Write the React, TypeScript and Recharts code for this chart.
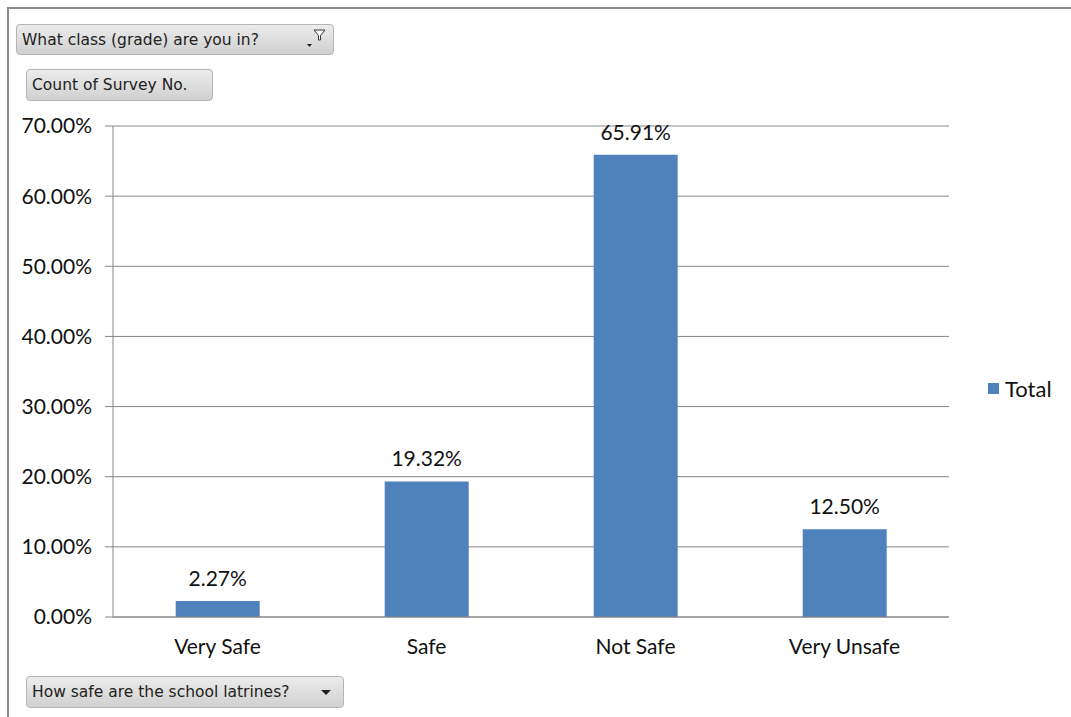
import React from "react";
import {
  BarChart,
  Bar,
  XAxis,
  YAxis,
  CartesianGrid,
  Legend,
  LabelList,
} from "recharts";

const categories = ["Very Safe", "Safe", "Not Safe", "Very Unsafe"];
const totals = [2.27, 19.32, 65.91, 12.5];
const yTicks = [0, 10, 20, 30, 40, 50, 60, 70];
const boundaryTicks = [0, 1, 2, 3, 4];

const data = categories.map((name, i) => ({ name, Total: totals[i] }));

const AXIS = "#868686";
const BAR = "#4F81BD";
const FONT = "Lato, 'Open Sans', sans-serif";
const FS = 21;

const pct = (v: number) => `${Number(v).toFixed(2)}%`;

const buttonStyle: React.CSSProperties = {
  position: "absolute",
  boxSizing: "border-box",
  border: "1px solid #b4b4b4",
  borderRadius: 4,
  background: "linear-gradient(#ececec, #d0d0d0)",
  fontFamily: "'DejaVu Sans', Tahoma, sans-serif",
  fontSize: 15.5,
  color: "#222",
  paddingLeft: 5,
  display: "flex",
  alignItems: "center",
};

const LegendBox = () => (
  <div
    style={{
      display: "flex",
      alignItems: "center",
      paddingLeft: 39,
      paddingTop: 60,
      fontFamily: FONT,
      fontSize: 22,
      color: "#111",
    }}
  >
    <span
      style={{ width: 11, height: 11, background: BAR, marginRight: 6 }}
    />
    Total
  </div>
);

export default function App() {
  return (
    <div
      style={{
        position: "absolute",
        left: 0,
        top: 0,
        width: 1071,
        height: 717,
        background: "#fff",
        overflow: "hidden",
      }}
    >
      {/* frame of the pivot chart */}
      <div
        style={{
          position: "absolute",
          left: 7,
          top: 7,
          width: 1080,
          height: 720,
          borderLeft: "2px solid #8a8a8a",
          borderTop: "2px solid #8a8a8a",
        }}
      />

      <BarChart
        width={1071}
        height={717}
        data={data}
        margin={{ top: 126, right: 0, bottom: 62, left: 53 }}
        barCategoryGap="30%"
        style={{ position: "absolute", left: 0, top: 0 }}
      >
        <CartesianGrid vertical={false} stroke={AXIS} xAxisId={1} />
        <YAxis
          width={60}
          domain={[0, 70]}
          ticks={yTicks}
          tickFormatter={pct}
          stroke={AXIS}
          tickSize={8}
          tickMargin={13}
          tick={{ fill: "#111", fontSize: FS, fontFamily: FONT }}
          interval={0}
        />
        {/* tick marks between categories, Excel style */}
        <XAxis
          xAxisId={0}
          type="number"
          domain={[0, 4]}
          ticks={boundaryTicks}
          allowDataOverflow
          height={8}
          tickSize={8}
          tick={false}
          stroke={AXIS}
        />
        <XAxis
          xAxisId={1}
          dataKey="name"
          height={30}
          axisLine={false}
          tickLine={false}
          tickSize={0}
          tickMargin={14}
          tick={{ fill: "#111", fontSize: FS, fontFamily: FONT }}
          interval={0}
        />
        <Legend
          layout="vertical"
          align="right"
          verticalAlign="middle"
          width={122}
          content={() => <LegendBox />}
        />
        <Bar dataKey="Total" xAxisId={1} fill={BAR} isAnimationActive={false}>
          <LabelList
            dataKey="Total"
            position="top"
            offset={15}
            formatter={pct}
            style={{ fill: "#111", fontSize: FS, fontFamily: FONT }}
          />
        </Bar>
      </BarChart>

      <div style={{ ...buttonStyle, left: 16, top: 24, width: 318, height: 31 }}>
        What class (grade) are you in?
        <svg
          width={24}
          height={22}
          style={{ position: "absolute", right: 3, top: 3 }}
        >
          <path d="M1 16 L6 16 L3.5 19 Z" fill="#222" />
          <path
            d="M8 2 L19 2 L14.5 7.5 L14.5 12 L12.5 12 L12.5 7.5 Z"
            fill="#fff"
            stroke="#333"
            strokeWidth={1}
          />
        </svg>
      </div>
      <div style={{ ...buttonStyle, left: 26, top: 69, width: 187, height: 32 }}>
        Count of Survey No.
      </div>
      <div style={{ ...buttonStyle, left: 26, top: 676, width: 318, height: 32 }}>
        How safe are the school latrines?
        <svg
          width={12}
          height={8}
          style={{ position: "absolute", right: 11, top: 12 }}
        >
          <path d="M1 1 L11 1 L6 6 Z" fill="#222" />
        </svg>
      </div>
    </div>
  );
}
